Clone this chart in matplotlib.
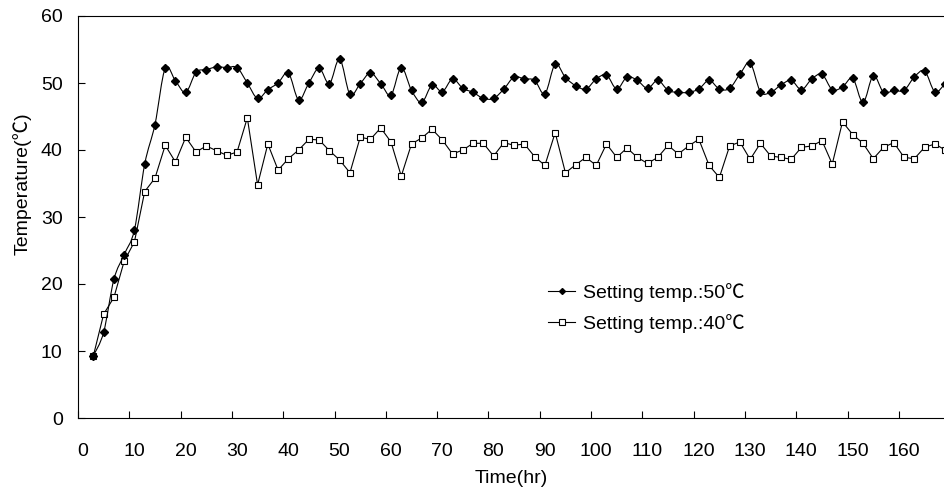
import matplotlib
matplotlib.use("Agg")
import matplotlib.pyplot as plt
from matplotlib.path import Path
from matplotlib.patches import PathPatch
from matplotlib.lines import Line2D
import matplotlib.transforms as mtransforms

# ---------------- data ----------------
time_hr = [3 + 2 * k for k in range(84)]

temp_50 = [9.3, 12.8, 20.7, 24.4, 28.1, 37.9, 43.8, 52.2, 50.3, 48.6,
           51.6, 52.0, 52.4, 52.3, 52.3, 50.0, 47.7, 49.0, 50.0, 51.5,
           47.5, 50.0, 52.2, 49.9, 53.6, 48.3, 49.9, 51.5, 49.9, 48.2,
           52.3, 48.9, 47.1, 49.7, 48.7, 50.6, 49.2, 48.6, 47.7, 47.7,
           49.1, 50.9, 50.6, 50.4, 48.4, 52.8, 50.8, 49.6, 49.1, 50.6,
           51.2, 49.1, 50.9, 50.4, 49.2, 50.4, 48.9, 48.6, 48.6, 49.1,
           50.4, 49.1, 49.2, 51.3, 53.0, 48.7, 48.6, 49.7, 50.4, 49.0,
           50.6, 51.3, 49.0, 49.4, 50.7, 47.1, 51.1, 48.6, 48.9, 48.9,
           50.9, 51.8, 48.7, 49.9]

temp_40 = [9.3, 15.5, 18.0, 23.4, 26.3, 33.8, 35.8, 40.7, 38.2, 41.9,
           39.7, 40.6, 39.9, 39.2, 39.7, 44.8, 34.8, 40.9, 37.0, 38.7,
           40.0, 41.6, 41.5, 39.9, 38.5, 36.6, 41.9, 41.6, 43.3, 41.2,
           36.1, 40.9, 41.8, 43.1, 41.5, 39.4, 40.0, 41.0, 41.0, 39.1,
           41.1, 40.7, 40.9, 39.0, 37.7, 42.6, 36.6, 37.8, 38.9, 37.7,
           40.9, 38.9, 40.3, 38.9, 38.0, 38.9, 40.7, 39.4, 40.6, 41.6,
           37.7, 35.9, 40.6, 41.2, 38.6, 41.0, 39.1, 38.9, 38.6, 40.4,
           40.6, 41.4, 37.9, 44.2, 42.3, 41.0, 38.7, 40.4, 41.1, 38.9,
           38.7, 40.4, 40.9, 40.0]

x_ticks = [0, 10, 20, 30, 40, 50, 60, 70, 80, 90, 100, 110, 120, 130, 140, 150, 160]
y_ticks = [0, 10, 20, 30, 40, 50, 60]
label_50 = "Setting temp.:50℃"
label_40 = "Setting temp.:40℃"

# ---------------- style ----------------
FONT = ['Liberation Sans', 'Noto Sans CJK JP', 'DejaVu Sans']
plt.rcParams['font.family'] = FONT
FS = 14

W, H = 944, 494
fig = plt.figure(figsize=(W / 100, H / 100), dpi=100)
left, right, top, bottom = 78, 944, 16, 418
ax = fig.add_axes([left / W, 1 - bottom / H, (right - left) / W, (bottom - top) / H])


def smooth_path(xs, ys):
    n = len(xs)
    verts = [(xs[0], ys[0])]
    codes = [Path.MOVETO]
    for k in range(n - 1):
        p0 = k - 1 if k > 0 else k
        p3 = k + 2 if k + 2 < n else k + 1
        c1 = (xs[k] + (xs[k + 1] - xs[p0]) / 6.0, ys[k] + (ys[k + 1] - ys[p0]) / 6.0)
        c2 = (xs[k + 1] - (xs[p3] - xs[k]) / 6.0, ys[k + 1] - (ys[p3] - ys[k]) / 6.0)
        verts += [c1, c2, (xs[k + 1], ys[k + 1])]
        codes += [Path.CURVE4] * 3
    return Path(verts, codes)


# 40 C series: straight line, open squares
ax.plot(time_hr, temp_40, color='black', lw=0.8, marker='s', ms=5,
        mfc='white', mec='black', mew=0.8, zorder=3)

# 50 C series: smoothed line, filled diamonds
ax.add_patch(PathPatch(smooth_path(time_hr, temp_50), fill=False,
                       edgecolor='black', lw=0.8, zorder=4))
ax.plot(time_hr, temp_50, ls='none', marker='D', ms=4.0,
        mfc='black', mec='black', zorder=5)

ax.set_xlim(0, (right - 79) / 5.125)
ax.set_ylim(0, 60)
ax.set_xticks(x_ticks)
ax.set_yticks(y_ticks)
ax.tick_params(axis='both', direction='in', length=5, width=0.8, labelsize=FS)
ax.tick_params(axis='x', pad=18)
ax.tick_params(axis='y', pad=11)

# shift x tick labels slightly right like the reference
offset = mtransforms.ScaledTranslation(5 / 100, 0, fig.dpi_scale_trans)
for lab in ax.get_xticklabels():
    lab.set_transform(lab.get_transform() + offset)

for s in ['left', 'bottom', 'top']:
    ax.spines[s].set_linewidth(0.8)
ax.spines['right'].set_visible(False)

ax.set_xlabel("Time(hr)", fontsize=FS, labelpad=7)
fig.text(22 / W, 1 - 184 / H, "Temperature(℃)", rotation=90, fontsize=FS,
         ha='center', va='center')

handles = [
    Line2D([], [], color='black', lw=0.8, marker='D', ms=4.0, mfc='black', mec='black'),
    Line2D([], [], color='black', lw=0.8, marker='s', ms=5, mfc='white', mec='black', mew=0.8),
]
fig.legend(handles, [label_50, label_40], loc='upper left',
           bbox_to_anchor=(548 / W, 1 - 283 / H), bbox_transform=fig.transFigure,
           frameon=False, fontsize=FS, handlelength=1.4, handletextpad=0.4,
           labelspacing=0.6, borderpad=0, borderaxespad=0, markerscale=0.75)

fig.savefig("out.png", dpi=100)
